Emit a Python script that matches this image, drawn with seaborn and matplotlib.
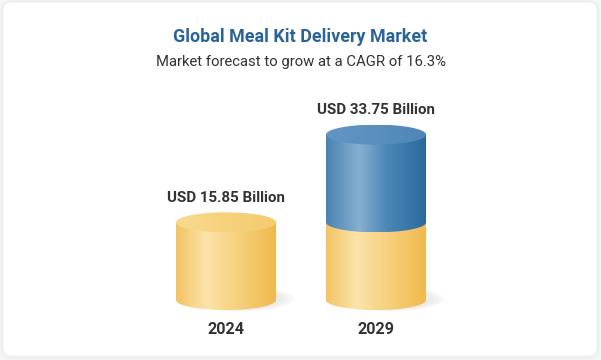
import numpy as np
import matplotlib
matplotlib.use("Agg")
import matplotlib.pyplot as plt
import seaborn as sns
import pandas as pd
from matplotlib.path import Path
from matplotlib.patches import PathPatch, Ellipse, FancyBboxPatch
from matplotlib.colors import LinearSegmentedColormap

# chart data
years = ["2024", "2029"]
totals = [15.85, 33.75]
base_values = [15.85, 15.85]
value_labels = ["USD 15.85 Billion", "USD 33.75 Billion"]
title = "Global Meal Kit Delivery Market"
subtitle = "Market forecast to grow at a CAGR of 16.3%"

sns.set_theme(style="white")
plt.rcParams["font.family"] = ["Roboto", "DejaVu Sans"]

W, H = 601, 360
fig = plt.figure(figsize=(W / 100, H / 100), dpi=100, facecolor="#f6f6f6")

# card background in pixel coords
bg = fig.add_axes([0, 0, 1, 1])
bg.set_xlim(0, W)
bg.set_ylim(H, 0)
bg.axis("off")
for k, a in enumerate([0.025, 0.02, 0.015]):
    bg.add_patch(FancyBboxPatch((3 - k, 2 - k), W - 7 + 2 * k, H - 5 + 2 * k,
                                boxstyle="round,pad=0,rounding_size=9",
                                fc="none", ec="black", lw=1, alpha=a))
bg.add_patch(FancyBboxPatch((3, 2), W - 7, H - 6, boxstyle="round,pad=0,rounding_size=8",
                            fc="white", ec="#ececec", lw=0.6))

fig.text(0.5, 1 - 37 / H, title, ha="center", va="center", fontsize=12.9,
         fontweight="bold", color="#2a6496")
fig.text(0.5, 1 - 62 / H, subtitle, ha="center", va="center", fontsize=10.7, color="#333333")

# main axes: 150 px per category, 4.9 px per billion, zero at y=300 px
px_unit = 4.9
zero_px = 300
ymin, ymax = -3, 40
ax = fig.add_axes([151 / W, (H - zero_px + ymin * px_unit) / H, 300 / W,
                   (ymax - ymin) * px_unit / H])
ax.patch.set_alpha(0)

yellow, blue = "#f5c96a", "#4a86b8"
df = pd.DataFrame({"year": years, "total": totals, "base": base_values})
sns.barplot(data=df, x="year", y="total", hue="year", palette=[yellow, blue],
            width=0.667, legend=False, ax=ax, linewidth=0, saturation=1)
sns.barplot(data=df, x="year", y="base", color=yellow, width=0.667, ax=ax,
            linewidth=0, saturation=1)

ry = 10 / px_unit  # ellipse half-height in data units

side_cmaps = {
    "y": LinearSegmentedColormap.from_list("ys", [(0, "#f2c462"), (0.3, "#fce3aa"),
                                                   (0.6, "#f6d17f"), (1, "#f0b94c")]),
    "b": LinearSegmentedColormap.from_list("bs", [(0, "#4a82b4"), (0.33, "#87afd0"),
                                                   (0.6, "#4d87b8"), (1, "#2a699d")]),
}
top_cmaps = {
    "y": LinearSegmentedColormap.from_list("yt", ["#f8d98f", "#f6d27d", "#f4cb6e"]),
    "b": LinearSegmentedColormap.from_list("bt", ["#6296c2", "#5a8fbe", "#4e86b6"]),
}
grad = np.linspace(0, 1, 256).reshape(1, -1)


def segment(x0, x1, y0, y1, key, z):
    cx, a = (x0 + x1) / 2, (x1 - x0) / 2
    t = np.linspace(np.pi, 2 * np.pi, 60)
    pts = list(zip(cx + a * np.cos(t), y0 + ry * np.sin(t)))
    pts += [(x1, y1), (x0, y1), pts[0]]
    codes = [Path.MOVETO] + [Path.LINETO] * (len(pts) - 2) + [Path.CLOSEPOLY]
    clip = PathPatch(Path(pts, codes), transform=ax.transData, fc="none", ec="none")
    ax.add_patch(clip)
    im = ax.imshow(grad, extent=[x0, x1, y0 - ry, y1], aspect="auto",
                   cmap=side_cmaps[key], zorder=z, interpolation="bilinear")
    im.set_clip_path(clip)


def top(x0, x1, y, key, z):
    cx, w = (x0 + x1) / 2, x1 - x0
    el = Ellipse((cx, y), w, 2 * ry, transform=ax.transData, fc="none", ec="none")
    ax.add_patch(el)
    im = ax.imshow(grad, extent=[x0, x1, y - ry, y + ry], aspect="auto",
                   cmap=top_cmaps[key], zorder=z, interpolation="bilinear")
    im.set_clip_path(el)


bars = list(ax.patches)
total_bars, base_bars = bars[:len(years)], bars[len(years):]
for i, (tb, bb) in enumerate(zip(total_bars, base_bars)):
    x0 = tb.get_x()
    x1 = x0 + tb.get_width()
    tb.set_visible(False)
    bb.set_visible(False)
    cx = (x0 + x1) / 2
    # soft floor shadow
    for k, (sw, al) in enumerate([(1.0, 0.3), (0.9, 0.45), (0.8, 0.55)]):
        ax.add_patch(Ellipse((cx + 0.09, 0.2), (x1 - x0) * sw + 0.06, 2 * ry * (1.25 - 0.1 * k),
                             fc="#e9e9e9", ec="none", alpha=al, zorder=1))
    base = base_values[i]
    total = totals[i]
    segment(x0, x1, 0, base, "y", 2)
    if total > base:
        segment(x0, x1, base, total, "b", 3)
        top(x0, x1, total, "b", 4)
    else:
        top(x0, x1, base, "y", 4)
    ax.annotate(value_labels[i], xy=(i, total + ry), xytext=(0, 7.5),
                textcoords="offset points", ha="center", va="baseline",
                fontsize=10.9, fontweight="bold", color="#333333")

ax.set_xlim(-0.5, 1.5)
ax.set_ylim(ymin, ymax)
ax.set_xlabel("")
ax.set_ylabel("")
ax.set_yticks([])
ax.tick_params(axis="x", length=0, pad=5, labelsize=11.6, labelcolor="#333333")
for lab in ax.get_xticklabels():
    lab.set_fontweight("bold")
sns.despine(ax=ax, left=True, bottom=True)

fig.savefig("out.png", dpi=100, facecolor=fig.get_facecolor())
